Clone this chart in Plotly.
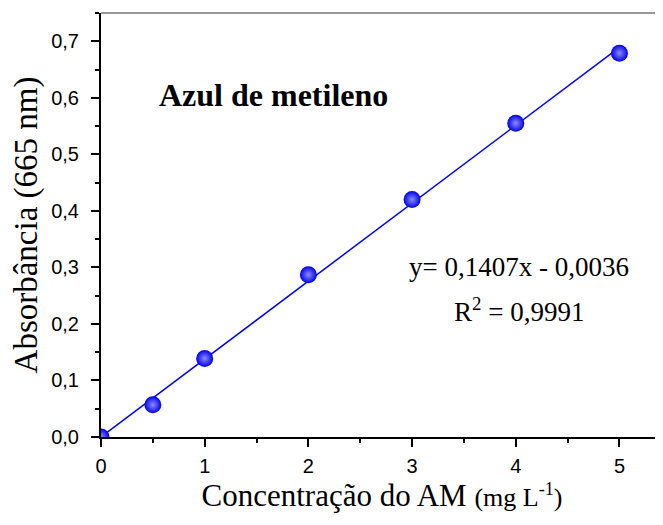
import numpy as np
import plotly.graph_objects as go

# Data
conc = [0, 0.5, 1, 2, 3, 4, 5]
absorb = [0.0, 0.057, 0.139, 0.287, 0.420, 0.555, 0.679]
eq_text = "y= 0,1407x - 0,0036"
r2_text = "R<sup>2</sup> = 0,9991"

x_ticks = [0, 1, 2, 3, 4, 5]
y_ticks = [0.0, 0.1, 0.2, 0.3, 0.4, 0.5, 0.6, 0.7]

# linear fit drawn through the measured points
coef = np.polyfit(conc, absorb, 1)
fit_x = [min(conc), max(conc)]
fit_y = [float(np.polyval(coef, v)) for v in fit_x]

fig = go.Figure()
fig.add_trace(go.Scatter(
    x=fit_x, y=fit_y, mode="lines",
    line=dict(color="#0000ff", width=1.5),
    showlegend=False, hoverinfo="skip"))
fig.add_trace(go.Scatter(
    x=conc, y=absorb, mode="markers",
    marker=dict(size=17, color="#0000e6",
                gradient=dict(type="radial", color="#8c8cff"),
                line=dict(width=0)),
    showlegend=False, cliponaxis=True))

serif = "Liberation Serif, Times New Roman, serif"
sans = "Liberation Sans, Arial, sans-serif"

fig.update_layout(
    width=663, height=525,
    margin=dict(l=93, r=8, t=5, b=96),
    plot_bgcolor="white", paper_bgcolor="white",
    font=dict(family=sans, color="black"),
    xaxis=dict(
        range=[0, 5.42], tickmode="array", tickvals=x_ticks,
        ticktext=[str(v) for v in x_ticks],
        automargin=False,
        showgrid=False, zeroline=False, showline=True,
        linecolor="black", linewidth=2,
        ticks="outside", ticklen=8, tickwidth=1.5, tickcolor="black",
        minor=dict(dtick=0.5, ticks="outside", ticklen=4, tickwidth=1.5, tickcolor="black"),
        tickfont=dict(family=sans, size=20), ticklabelstandoff=2,
        title=dict(text="Concentração do AM <span style='font-size:26px'>(mg L<sup>-1</sup>)</span>",
                   font=dict(family=serif, size=31), standoff=8),
    ),
    yaxis=dict(
        range=[0, 0.75], tickmode="array", tickvals=y_ticks,
        ticktext=[f"{v:.1f}".replace(".", ",") for v in y_ticks],
        automargin=False,
        showgrid=False, zeroline=False, showline=True,
        linecolor="black", linewidth=2,
        ticks="outside", ticklen=8, tickwidth=1.5, tickcolor="black",
        minor=dict(dtick=0.05, ticks="outside", ticklen=4, tickwidth=1.5, tickcolor="black"),
        tickfont=dict(family=sans, size=20), ticklabelstandoff=8,
        title=dict(text="Absorbância (665 nm)",
                   font=dict(family=serif, size=33), standoff=6),
    ),
    shapes=[dict(type="line", xref="paper", yref="paper", x0=0, x1=1, y0=1, y1=1,
                 line=dict(color="#777777", width=1.5))],
    annotations=[
        dict(x=1.66, y=0.605, xref="x", yref="y", text="<b>Azul de metileno</b>",
             showarrow=False, font=dict(family=serif, size=32, color="black")),
        dict(x=4.03, y=0.300, xref="x", yref="y", text=eq_text,
             showarrow=False, font=dict(family=serif, size=27, color="black")),
        dict(x=4.03, y=0.225, xref="x", yref="y", text=r2_text,
             showarrow=False, font=dict(family=serif, size=27, color="black")),
    ],
)

fig.write_html("out.html")
